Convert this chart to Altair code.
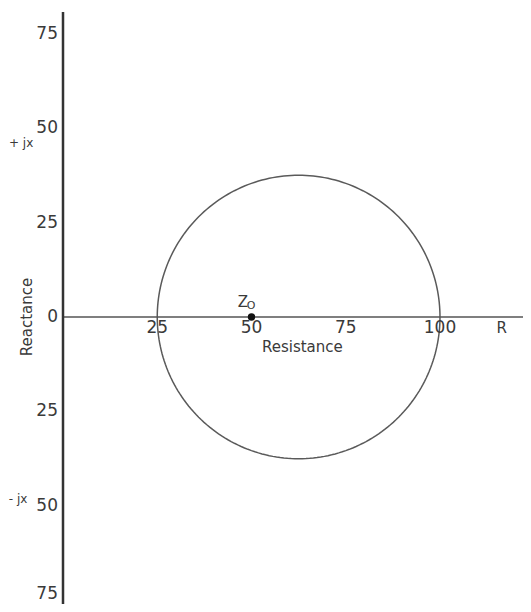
import altair as alt
import numpy as np
import pandas as pd

# ---- values ----
x_tick_values = [25, 50, 75, 100]
x_tick_labels = ["25", "50", "75", "100"]
y_tick_values = [75, 50, 25, 0, -25, -50, -75]
y_tick_labels = ["75", "50", "25", "0", "25", "50", "75"]
circle_center = 62.5
circle_radius = 37.5
z0_resistance = 50
z0_reactance = 0

X_DOM = [-14.59, 122.02]
Y_DOM = [-75.93, 81.75]

xs = alt.Scale(domain=X_DOM, nice=False, zero=False)
ys = alt.Scale(domain=Y_DOM, nice=False, zero=False)
FONT = "DejaVu Sans"
TXT = "#3a3a3a"

# circle locus
t = np.linspace(0, 2 * np.pi, 241)
circ = pd.DataFrame({
    "x": circle_center + circle_radius * np.cos(t),
    "y": circle_radius * np.sin(t),
    "o": np.arange(len(t)),
})
circle = alt.Chart(circ).mark_line(color="#5a5a5a", strokeWidth=1.5, clip=False).encode(
    x=alt.X("x:Q", scale=xs, axis=None),
    y=alt.Y("y:Q", scale=ys, axis=None),
    order="o:Q",
)

# axis lines
vline = alt.Chart(pd.DataFrame({"x": [0], "y": [Y_DOM[0]], "y2": [80.7]})).mark_rule(
    color="#333", strokeWidth=2.5).encode(
    x=alt.X("x:Q", scale=xs, axis=None), y=alt.Y("y:Q", scale=ys, axis=None), y2="y2:Q")
hline = alt.Chart(pd.DataFrame({"x": [0], "x2": [X_DOM[1]], "y": [0]})).mark_rule(
    color="#555", strokeWidth=1.5).encode(
    x=alt.X("x:Q", scale=xs, axis=None), x2="x2:Q", y=alt.Y("y:Q", scale=ys, axis=None))

# tick labels
xl = pd.DataFrame({"x": x_tick_values, "y": [0] * len(x_tick_values), "t": x_tick_labels})
xlab = alt.Chart(xl).mark_text(font=FONT, fontSize=17, color=TXT, baseline="middle",
                               align="center", dy=11).encode(
    x=alt.X("x:Q", scale=xs, axis=None), y=alt.Y("y:Q", scale=ys, axis=None), text="t:N")

yl = pd.DataFrame({"x": [0] * len(y_tick_values), "y": y_tick_values, "t": y_tick_labels})
ylab = alt.Chart(yl[yl.y > -75]).mark_text(font=FONT, fontSize=17, color=TXT, baseline="middle",
                                           align="right", dx=-5).encode(
    x=alt.X("x:Q", scale=xs, axis=None), y=alt.Y("y:Q", scale=ys, axis=None), text="t:N")
ylab_bottom = alt.Chart(yl[yl.y <= -75]).mark_text(font=FONT, fontSize=17, color=TXT,
                                                   baseline="bottom", align="right",
                                                   dx=-5, dy=3).encode(
    x=alt.X("x:Q", scale=xs, axis=None), y=alt.Y("y:Q", scale=ys, axis=None), text="t:N")

# annotations
ann = pd.DataFrame({
    "x": [116.4, 63.5, -11.1, -11.9, 47.7],
    "y": [0, -7.9, 46.0, -48.1, 4.0],
    "t": ["R", "Resistance", "+ jx", "- jx", "Z"],
    "s": [15, 15, 12, 12, 15],
})
r_lab = alt.Chart(ann[ann.t == "R"]).mark_text(font=FONT, color=TXT, fontSize=15,
                                                baseline="middle", dy=11).encode(
    x=alt.X("x:Q", scale=xs, axis=None), y=alt.Y("y:Q", scale=ys, axis=None), text="t:N")
other = alt.Chart(ann[ann.t != "R"]).mark_text(font=FONT, color=TXT,
                                                baseline="middle", align="center").encode(
    x=alt.X("x:Q", scale=xs, axis=None), y=alt.Y("y:Q", scale=ys, axis=None), text="t:N",
    size=alt.Size("s:Q", scale=None, legend=None))

sub = alt.Chart(pd.DataFrame({"x": [49.9], "y": [3.0], "t": ["O"]})).mark_text(
    font=FONT, color=TXT, fontSize=11, baseline="middle", align="center").encode(
    x=alt.X("x:Q", scale=xs, axis=None), y=alt.Y("y:Q", scale=ys, axis=None), text="t:N")

react = alt.Chart(pd.DataFrame({"x": [-9.5], "y": [0], "t": ["Reactance"]})).mark_text(
    font=FONT, color=TXT, fontSize=15, angle=270, baseline="middle", align="center").encode(
    x=alt.X("x:Q", scale=xs, axis=None), y=alt.Y("y:Q", scale=ys, axis=None), text="t:N")

dot = alt.Chart(pd.DataFrame({"x": [z0_resistance], "y": [z0_reactance]})).mark_point(
    filled=True, shape="circle", color="#111", size=55, opacity=1).encode(
    x=alt.X("x:Q", scale=xs, axis=None), y=alt.Y("y:Q", scale=ys, axis=None))

chart = alt.layer(circle, hline, vline, xlab, ylab, ylab_bottom, r_lab, other, sub, react,
                  dot).properties(
    width=515, height=596,
    autosize=alt.AutoSizeParams(type="none"),
    padding=0,
    background="white",
).configure_view(stroke=None)

chart.save("out.html", embed_options={"renderer": "svg", "actions": False})
